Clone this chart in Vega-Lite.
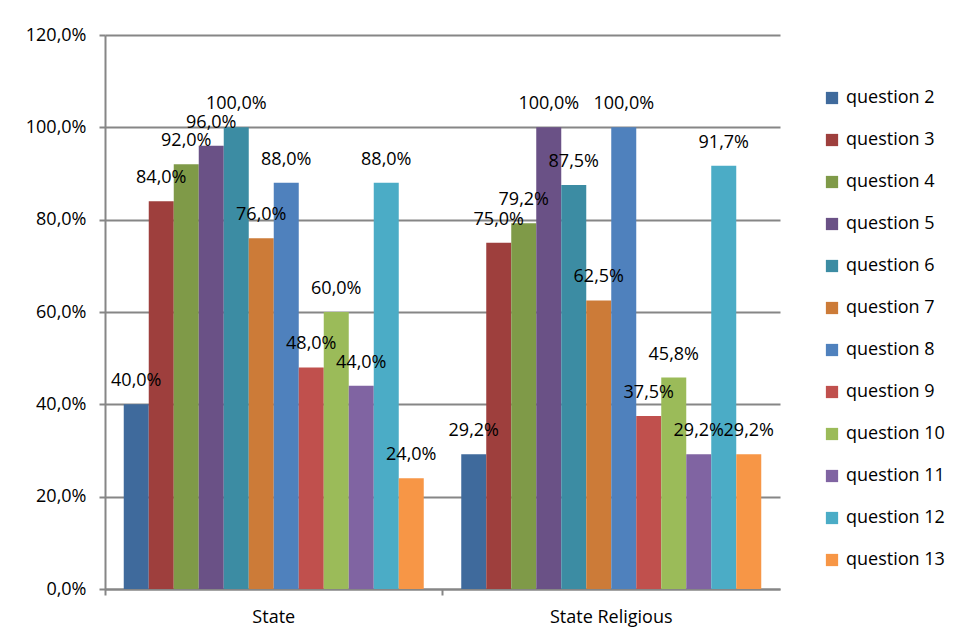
{
  "$schema": "https://vega.github.io/schema/vega-lite/v6.json",
  "width": 675,
  "height": 554,
  "autosize": {"type": "none"},
  "padding": {"left": 105, "top": 35, "right": 185, "bottom": 40},
  "background": "white",
  "config": {
    "locale": {"number": {"decimal": ",", "thousands": ".", "grouping": [3], "currency": ["", " €"]}},
    "font": "Open Sans",
    "view": {"stroke": null}
  },
  "data": {
    "values": [
      {"school": "State", "question": "question 2", "value": 0.40},
      {"school": "State", "question": "question 3", "value": 0.84},
      {"school": "State", "question": "question 4", "value": 0.92},
      {"school": "State", "question": "question 5", "value": 0.96},
      {"school": "State", "question": "question 6", "value": 1.00},
      {"school": "State", "question": "question 7", "value": 0.76},
      {"school": "State", "question": "question 8", "value": 0.88},
      {"school": "State", "question": "question 9", "value": 0.48},
      {"school": "State", "question": "question 10", "value": 0.60},
      {"school": "State", "question": "question 11", "value": 0.44},
      {"school": "State", "question": "question 12", "value": 0.88},
      {"school": "State", "question": "question 13", "value": 0.24},
      {"school": "State Religious", "question": "question 2", "value": 0.292},
      {"school": "State Religious", "question": "question 3", "value": 0.75},
      {"school": "State Religious", "question": "question 4", "value": 0.792},
      {"school": "State Religious", "question": "question 5", "value": 1.00},
      {"school": "State Religious", "question": "question 6", "value": 0.875},
      {"school": "State Religious", "question": "question 7", "value": 0.625},
      {"school": "State Religious", "question": "question 8", "value": 1.00},
      {"school": "State Religious", "question": "question 9", "value": 0.375},
      {"school": "State Religious", "question": "question 10", "value": 0.458},
      {"school": "State Religious", "question": "question 11", "value": 0.292},
      {"school": "State Religious", "question": "question 12", "value": 0.917},
      {"school": "State Religious", "question": "question 13", "value": 0.292}
    ]
  },
  "encoding": {
    "x": {
      "field": "school", "type": "nominal", "title": null,
      "scale": {"paddingInner": 0, "paddingOuter": 0},
      "axis": {"labelAngle": 0, "labelFontSize": 18, "labelColor": "#000000", "labelFont": "Open Sans",
               "domainColor": "#868686", "domainWidth": 2, "tickColor": "#868686", "tickWidth": 2, "tickSize": 6,
               "bandPosition": 0, "labelPadding": 13, "grid": false}
    },
    "xOffset": {
      "field": "question", "type": "nominal",
      "sort": ["question 2","question 3","question 4","question 5","question 6","question 7","question 8","question 9","question 10","question 11","question 12","question 13"],
      "scale": {"paddingInner": 0, "paddingOuter": 0.75}
    },
    "y": {
      "field": "value", "type": "quantitative", "title": null,
      "scale": {"domain": [0, 1.2], "nice": false},
      "axis": {"format": ".1%", "values": [0, 0.2, 0.4, 0.6, 0.8, 1.0, 1.2], "labelFontSize": 18, "labelColor": "#000000",
               "labelFont": "Open Sans", "domainColor": "#868686", "domainWidth": 2, "tickColor": "#868686", "tickWidth": 2,
               "tickSize": 6, "labelPadding": 13, "grid": true, "gridColor": "#868686", "gridWidth": 2}
    }
  },
  "layer": [
    {
      "mark": {"type": "bar"},
      "encoding": {
        "color": {
          "field": "question", "type": "nominal", "title": null,
          "sort": ["question 2","question 3","question 4","question 5","question 6","question 7","question 8","question 9","question 10","question 11","question 12","question 13"],
          "scale": {
            "domain": ["question 2","question 3","question 4","question 5","question 6","question 7","question 8","question 9","question 10","question 11","question 12","question 13"],
            "range": ["#3F6A9C","#9E3F3D","#7F9A48","#6A5186","#3C8CA3","#CC7B38","#4F81BD","#C0504D","#9BBB59","#8064A2","#4BACC6","#F79646"]
          },
          "legend": {
            "orient": "none", "legendX": 718, "legendY": 54,
            "symbolType": "square", "symbolSize": 150, "symbolStrokeWidth": 0,
            "labelFontSize": 18, "labelColor": "#000000", "labelFont": "Open Sans",
            "rowPadding": 24, "labelOffset": 5
          }
        }
      }
    },
    {
      "mark": {"type": "text", "baseline": "middle", "align": "center", "dy": -23, "fontSize": 18, "color": "#000000", "font": "Open Sans"},
      "encoding": {
        "text": {"field": "value", "type": "quantitative", "format": ".1%"}
      }
    }
  ]
}
